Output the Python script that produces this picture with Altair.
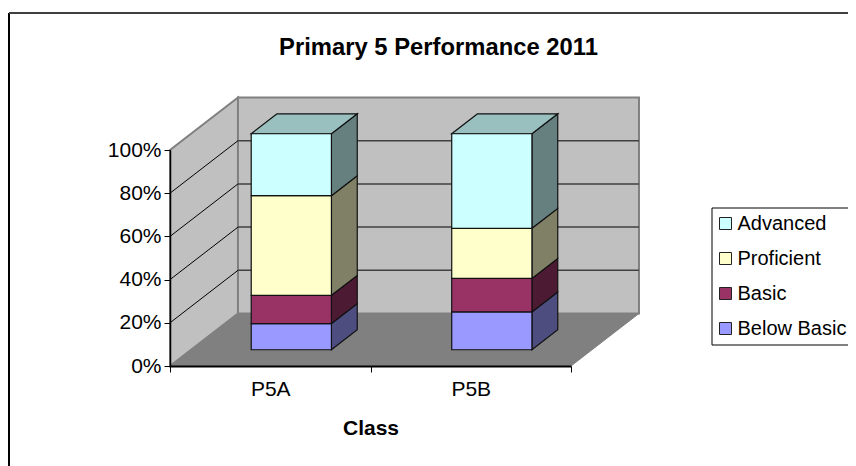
import altair as alt
import pandas as pd

FONT = "Liberation Sans"
categories = ["P5A", "P5B"]
series = ["Below Basic", "Basic", "Proficient", "Advanced"]
below_basic = [12.1, 17.5]
basic = [13.1, 15.5]
proficient = [46.1, 23.2]
advanced = [28.7, 43.8]
front_colors = ["#9999FF", "#993366", "#FFFFCC", "#CCFFFF"]
side_colors = ["#4D4D80", "#4D1A33", "#808066", "#668080"]
top_color = "#99BFBF"
tick_values = [0, 20, 40, 60, 80, 100]

# depth of the 3-D box, expressed in axis units
DX, DY = 0.339, 24.3
D0, D1 = 0.31, 0.69
HALF = 0.2

xs = alt.Scale(domain=[0, 2], nice=False, zero=False)
ys = alt.Scale(domain=[0, 100], nice=False, zero=False)

label_expr = "datum.value == 0.5 ? '%s' : datum.value == 1.5 ? '%s' : ''" % tuple(categories)
x_axis = alt.Axis(
    values=[0, 0.5, 1, 1.5, 2], labelExpr=label_expr, title="Class", grid=False,
    tickSize=6, tickColor="#000000", tickWidth=1,
    tickOpacity={"condition": {"test": "datum.value % 1 == 0", "value": 1}, "value": 0},
    domainColor="#000000", domainWidth=2, labelFont=FONT, labelFontSize=21, labelColor="#000000",
    labelPadding=6, labelOverlap=False, labelFlush=False, titleFont=FONT, titleFontSize=21, titleFontWeight="bold",
    titleColor="#000000", titlePadding=18, zindex=1,
)
y_axis = alt.Axis(
    values=tick_values, labelExpr="datum.value + '%'", title=None, grid=False,
    tickSize=6, tickColor="#000000", tickWidth=1, domainColor="#000000", domainWidth=1.5,
    labelFont=FONT, labelFontSize=21, labelColor="#000000", labelPadding=3, labelOverlap=False,
    labelFlush=False, zindex=1,
)
X = alt.X("x:Q", scale=xs, axis=x_axis)
Y = alt.Y("y:Q", scale=ys, axis=y_axis)


def vface(rows, name, shade, x0, lo0, hi0, x1, lo1, hi1):
    rows.append(dict(poly=name, shade=shade, x=x0, y=lo0, y2=hi0))
    rows.append(dict(poly=name, shade=shade, x=x1, y=lo1, y2=hi1))


def hface(rows, name, shade, y0, a0, b0, y1, a1, b1):
    rows.append(dict(poly=name, shade=shade, y=y0, x=a0, x2=b0))
    rows.append(dict(poly=name, shade=shade, y=y1, x=a1, x2=b1))


walls, floor, sides, tops, fronts = [], [], [], [], []
vface(walls, "left", "#C0C0C0", 0, 0, 100, DX, DY, 100 + DY)
vface(walls, "back", "#C0C0C0", DX, DY, 100 + DY, 2 + DX, DY, 100 + DY)
hface(floor, "floor", "#808080", 0, 0, 2, DY, DX, 2 + DX)

table = [below_basic, basic, proficient, advanced]
for i, cat in enumerate(categories):
    left = i + 0.5 - HALF + D0 * DX
    right = i + 0.5 + HALF + D0 * DX
    back = i + 0.5 + HALF + D1 * DX
    base = 0.0
    for j, name in enumerate(series):
        top = base + table[j][i]
        lo0, hi0 = base + D0 * DY, top + D0 * DY
        lo1, hi1 = base + D1 * DY, top + D1 * DY
        vface(sides, f"{cat}-{name}", side_colors[j], right, lo0, hi0, back, lo1, hi1)
        fronts.append(dict(series=name, x=left, x2=right, y=lo0, y2=hi0))
        base = top
    hface(tops, f"{cat}-top", top_color, base + D0 * DY, left, right,
          base + D1 * DY, left + (D1 - D0) * DX, right + (D1 - D0) * DX)

grid_left, grid_back = [], []
for v in tick_values[1:-1]:
    grid_left += [dict(level=v, k=0, x=0, y=v), dict(level=v, k=1, x=DX, y=v + DY)]
    grid_back += [dict(level=v, k=0, x=DX, y=v + DY), dict(level=v, k=1, x=2 + DX, y=v + DY)]

shade = alt.Fill("shade:N", scale=None, legend=None)

wall_layer = alt.Chart(pd.DataFrame(walls)).mark_area(
    orient="vertical", stroke="#808080", strokeWidth=2, opacity=1
).encode(x=X, y=Y, y2="y2:Q", fill=shade, detail="poly:N")
floor_layer = alt.Chart(pd.DataFrame(floor)).mark_area(
    orient="horizontal", stroke="#808080", strokeWidth=1
).encode(y=Y, x=X, x2="x2:Q", fill=shade, detail="poly:N")
left_grid = alt.Chart(pd.DataFrame(grid_left)).mark_line(color="#000000", strokeWidth=1).encode(
    x=X, y=Y, detail="level:N", order="k:Q")
back_grid = alt.Chart(pd.DataFrame(grid_back)).mark_line(color="#404040", strokeWidth=1.5).encode(
    x=X, y=Y, detail="level:N", order="k:Q")
side_layer = alt.Chart(pd.DataFrame(sides)).mark_area(
    orient="vertical", stroke="#111111", strokeWidth=1.2
).encode(x=X, y=Y, y2="y2:Q", fill=shade, detail="poly:N")
top_layer = alt.Chart(pd.DataFrame(tops)).mark_area(
    orient="horizontal", stroke="#111111", strokeWidth=1.2
).encode(y=Y, x=X, x2="x2:Q", fill=shade, detail="poly:N")
front_layer = alt.Chart(pd.DataFrame(fronts)).mark_rect(stroke="#111111", strokeWidth=1.2).encode(
    x=X, x2="x2:Q", y=Y, y2="y2:Q",
    color=alt.Color(
        "series:N",
        scale=alt.Scale(domain=series[::-1], range=front_colors[::-1]),
        legend=alt.Legend(
            title=None, orient="none", legendX=541.5, legendY=57.5, padding=6,
            strokeColor="#000000", fillColor="#FFFFFF",
            symbolType="square", symbolSize=144, symbolStrokeColor="#222222", symbolStrokeWidth=1,
            symbolOffset=-2, labelFont=FONT, labelFontSize=20, labelColor="#000000",
            labelOffset=2,
            rowPadding=15, labelLimit=300,
        ),
    ),
)
frame_left = alt.Chart(pd.DataFrame({"a": [0]})).mark_rule(color="#000000", strokeWidth=2).encode(
    x=alt.value(-161), y=alt.value(-137), y2=alt.value(330))
frame_top = alt.Chart(pd.DataFrame({"a": [0]})).mark_rule(color="#404040", strokeWidth=2).encode(
    y=alt.value(-137), x=alt.value(-161), x2=alt.value(700))

chart = alt.layer(
    frame_left, frame_top, wall_layer, floor_layer, left_grid, back_grid,
    side_layer, top_layer, front_layer,
).properties(
    width=401, height=216,
    padding={"left": 162, "top": 142, "right": 277, "bottom": 100},
    autosize=alt.AutoSizeParams(type="none"),
    title=alt.TitleParams(
        "Primary 5 Performance 2011", font=FONT, fontSize=23.8, fontWeight="bold", color="#000000",
        anchor="middle", dx=68, offset=-48,
    ),
).configure_view(stroke=None).configure(background="#FFFFFF")

chart.save("out.html", embed_options={"renderer": "svg", "actions": False})
